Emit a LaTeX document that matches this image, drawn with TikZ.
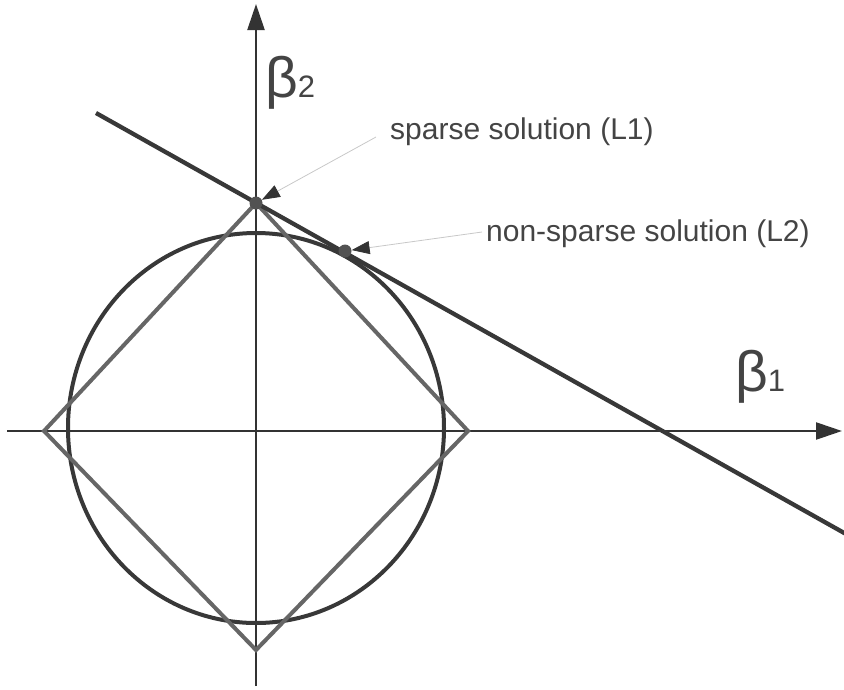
\documentclass[tikz,border=0pt]{standalone}
\usepackage{fontspec}
\setmainfont{Liberation Sans}
\usetikzlibrary{arrows.meta}
\definecolor{axisc}{HTML}{333333}
\definecolor{diamc}{HTML}{666666}
\definecolor{circc}{HTML}{383838}
\definecolor{txtc}{HTML}{444444}
\definecolor{leadc}{HTML}{C8C8C8}
\tikzset{
  axis/.style={draw=axisc, line width=2.3pt, -{Triangle[length=26pt,width=17pt]}},
  diam/.style={draw=diamc, line width=4pt, line join=miter},
  circ/.style={draw=circc, line width=4pt},
  tang/.style={draw=circc, line width=4.3pt},
  dotc/.style={circle, fill=diamc!80!black, inner sep=0pt, minimum size=13pt},
  lbl/.style={text=txtc, font=\fontsize{30}{30}\selectfont, inner sep=0pt, anchor=base west},
  leader/.style={draw=leadc, line width=0.8pt, -{Triangle[length=18pt,width=13pt,fill=axisc,color=axisc]}},
}
\begin{document}
\begin{tikzpicture}[x=1pt,y=-1pt]
\useasboundingbox (0,0) rectangle (844,689);
% axes
\coordinate (xs) at (7,431);
\coordinate (xe) at (842,431);
\coordinate (ys) at (256,686);
\coordinate (ye) at (256,4);
\draw[axis] (xs) -- (xe);
\draw[axis] (ys) -- (ye);
% circle (L2 ball)
\draw[circ] (256,428) ellipse [x radius=188pt, y radius=195pt];
% diamond (L1 ball)
\coordinate (dl) at (44,431);
\coordinate (dr) at (468,431);
\coordinate (dt) at (256,203);
\coordinate (db) at (256,650);
\draw[diam] (dl) -- (dt) -- (dr) -- (db) -- cycle;
% tangent line
\coordinate (ta) at (96,113);
\coordinate (tb) at (846,534);
\draw[tang] (ta) -- (tb);
% points
\node[dotc] (p1) at (256,203) {};
\node[dotc] (p2) at (345,251) {};
% axis labels
\node[text=txtc, inner sep=0pt, anchor=base west] (b2) at (265,97)
  {\fontsize{57}{57}\selectfont β\fontsize{31}{31}\selectfont 2};
\node[text=txtc, inner sep=0pt, anchor=base west] (b1) at (735,391)
  {\fontsize{57}{57}\selectfont β\fontsize{31}{31}\selectfont 1};
% labels
\node[lbl] (l1) at (390,139) {sparse solution (L1)};
\node[lbl] (l2) at (486,241) {non-sparse solution (L2)};
\coordinate (l1s) at (376,137);
\coordinate (l2s) at (482,232);
\draw[leader] (l1s) -- (p1);
\draw[leader] (l2s) -- (p2);
\end{tikzpicture}
\end{document}
